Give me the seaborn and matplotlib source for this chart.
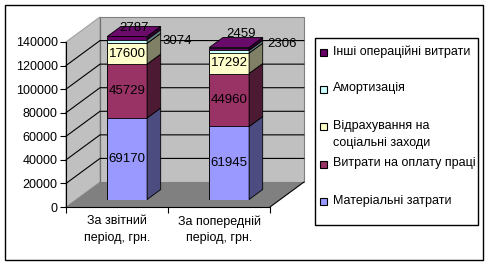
import numpy as np
import matplotlib
matplotlib.use("Agg")
import matplotlib.pyplot as plt
import seaborn as sns
from matplotlib.patches import Polygon, Rectangle
from matplotlib.lines import Line2D

# ---------------- data ----------------
categories = ["За звітний\nперіод, грн.", "За попередній\nперіод, грн."]
series_names = ["Матеріальні затрати", "Витрати на оплату праці",
                "Відрахування на\nсоціальні заходи", "Амортизація",
                "Інші операційні витрати"]
material = [69170, 61945]
salary = [45729, 44960]
social = [17600, 17292]
amort = [3074, 2306]
other = [2787, 2459]
y_ticks = [0, 20000, 40000, 60000, 80000, 100000, 120000, 140000]

# ---------------- style ----------------
front_colors = ["#9999FF", "#993366", "#FFFFCC", "#CCFFFF", "#660066"]
side_colors = ["#4C4C80", "#4C1A33", "#808066", "#668080", "#330033"]
top_color = "#6A0A6A"

sns.set_theme(style="white")
plt.rcParams['font.family'] = ['Liberation Sans', 'DejaVu Sans']
plt.rcParams['font.size'] = 9
plt.rcParams['xtick.labelsize'] = 9
plt.rcParams['ytick.labelsize'] = 9

W, H = 490, 267
fig = plt.figure(figsize=(W / 100, H / 100), dpi=100)
fig.patch.set_facecolor("white")

def fx(px):
    return px / W

def fy(py):
    return 1 - py / H

# front plane of the 3D box (pixels)
L, R, B, T = 66, 270, 207, 42
DEPTH = (34, 25)          # full depth offset in pixels (right, up)
BAR_FRONT = 0.3           # bar front position within depth
BAR_DEPTH = 0.4           # bar depth fraction
BAR_W = 0.39

ymax = y_ticks[-1]
ax = fig.add_axes([fx(L), fy(B), (R - L) / W, (B - T) / H])
ax.set_xlim(-0.5, 1.5)
ax.set_ylim(0, ymax)
ax.patch.set_alpha(0)

dx = DEPTH[0] / ((R - L) / 2)
dy = DEPTH[1] / (B - T) * ymax

# walls and floor
ax.add_patch(Polygon([(-0.5 + dx, dy), (1.5 + dx, dy), (1.5 + dx, ymax + dy), (-0.5 + dx, ymax + dy)],
                     closed=True, fc="#C0C0C0", ec="#808080", lw=0.8, clip_on=False, zorder=0.3))
ax.add_patch(Polygon([(-0.5, 0), (-0.5 + dx, dy), (-0.5 + dx, ymax + dy), (-0.5, ymax)],
                     closed=True, fc="#C0C0C0", ec="#A0A0A0", lw=0.8, clip_on=False, zorder=0.3))
ax.add_patch(Polygon([(-0.5, 0), (1.5, 0), (1.5 + dx, dy), (-0.5 + dx, dy)],
                     closed=True, fc="#808080", ec="none", clip_on=False, zorder=0.4))
ax.add_line(Line2D([1.5, 1.5 + dx], [0, dy], color="black", lw=0.8, clip_on=False, zorder=0.6))
ax.add_line(Line2D([-0.5 + dx, -0.5 + dx], [dy, ymax + dy], color="#707070", lw=0.8, clip_on=False, zorder=0.6))
for t in y_ticks[1:-1]:
    ax.add_line(Line2D([-0.5, -0.5 + dx, 1.5 + dx], [t, t + dy, t + dy],
                       color="black", lw=0.8, clip_on=False, zorder=0.6))

# axes styling
for s in ["top", "right"]:
    ax.spines[s].set_visible(False)
for s in ["left", "bottom"]:
    ax.spines[s].set_color("black")
    ax.spines[s].set_linewidth(0.8)
ax.set_yticks(y_ticks)
ax.set_yticklabels([str(t) for t in y_ticks], fontsize=9)
ax.tick_params(axis="y", direction="out", length=4, width=0.8, pad=2, colors="black",
               left=True, labelsize=9)
ax.set_xticks([-0.5, 0.5, 1.5])
ax.set_xticklabels(["", "", ""])
ax.tick_params(axis="x", which="major", direction="out", length=4, width=0.8, colors="black", bottom=True)
ax.set_xticks([0, 1], minor=True)
ax.set_xticklabels(categories, minor=True, linespacing=1.5, fontsize=9)
ax.tick_params(axis="x", which="minor", length=0, pad=6, colors="black", labelsize=9)
ax.grid(False)

# bars axes (front faces at depth BAR_FRONT)
ax_b = fig.add_axes([fx(L + BAR_FRONT * DEPTH[0]), fy(B - BAR_FRONT * DEPTH[1]), (R - L) / W, (B - T) / H])
ax_b.patch.set_alpha(0)

values = np.array([material, salary, social, amort, other], dtype=float)
cum = np.cumsum(values, axis=0)
bars = {}
for i in reversed(range(len(values))):
    n0 = len(ax_b.patches)
    sns.barplot(x=categories, y=cum[i], color=front_colors[i], saturation=1,
                width=BAR_W, edgecolor="black", linewidth=0.6, ax=ax_b)
    bars[i] = ax_b.patches[n0:]
ax_b.set_xlim(-0.5, 1.5)
ax_b.set_ylim(0, ymax)
ax_b.axis("off")

bdx = BAR_DEPTH * dx
bdy = BAR_DEPTH * dy
top_i = len(values) - 1
for i in range(len(values)):
    for j, p in enumerate(bars[i]):
        xl = p.get_x()
        xr = xl + p.get_width()
        b = cum[i - 1][j] if i > 0 else 0.0
        t = cum[i][j]
        ax_b.add_patch(Polygon([(xr, b), (xr + bdx, b + bdy), (xr + bdx, t + bdy), (xr, t)],
                               closed=True, fc=side_colors[i], ec="black", lw=0.6, clip_on=False, zorder=3))
        if i == top_i:
            ax_b.add_patch(Polygon([(xl, t), (xr, t), (xr + bdx, t + bdy), (xl + bdx, t + bdy)],
                                   closed=True, fc=top_color, ec="black", lw=0.6, clip_on=False, zorder=3))

# value labels
amort_offsets = [(2, 1), (5, 8)]
other_offsets = [(0, 3), (5, 9)]
for i in range(len(values)):
    for j, p in enumerate(bars[i]):
        xl = p.get_x()
        xr = xl + p.get_width()
        xc = (xl + xr) / 2
        b = cum[i - 1][j] if i > 0 else 0.0
        t = cum[i][j]
        v = int(values[i][j])
        if i <= 2:
            ax_b.text(xc, (b + t) / 2, str(v), ha="center", va="center", fontsize=9.5,
                      color="black", zorder=5, clip_on=False)
        elif i == 3:
            ax_b.annotate(str(v), xy=(xr + bdx, (b + t) / 2), xytext=amort_offsets[j],
                          textcoords="offset pixels", ha="left", va="center", fontsize=9.5,
                          color="black", zorder=5, annotation_clip=False)
        else:
            ax_b.annotate(str(v), xy=(xc + bdx / 2, t + bdy / 2), xytext=other_offsets[j],
                          textcoords="offset pixels", ha="center", va="center", fontsize=9.5,
                          color="black", zorder=5, annotation_clip=False)

# legend (manual, Excel-like equal slots)
LG_L, LG_T, LG_R, LG_B = 315, 38, 478, 225
fig.add_artist(Rectangle((fx(LG_L), fy(LG_B)), (LG_R - LG_L) / W, (LG_B - LG_T) / H,
                         transform=fig.transFigure, fc="white", ec="black", lw=1))
n = len(series_names)
slot = (LG_B - LG_T) / n
for k, i in enumerate(reversed(range(n))):
    yc = LG_T + k * slot + 14
    fig.add_artist(Rectangle((fx(320), fy(yc + 3.5)), 7 / W, 7 / H, transform=fig.transFigure,
                             fc=front_colors[i], ec="black", lw=0.8))
    fig.text(fx(333), fy(yc - 7), series_names[i], ha="left", va="top", fontsize=9,
             color="black", linespacing=1.55)

# outer frame
fig.add_artist(Rectangle((fx(5), fy(260)), (483 - 5) / W, (260 - 5) / H,
                         transform=fig.transFigure, fc="none", ec="black", lw=1))

fig.savefig("out.png", dpi=100)
